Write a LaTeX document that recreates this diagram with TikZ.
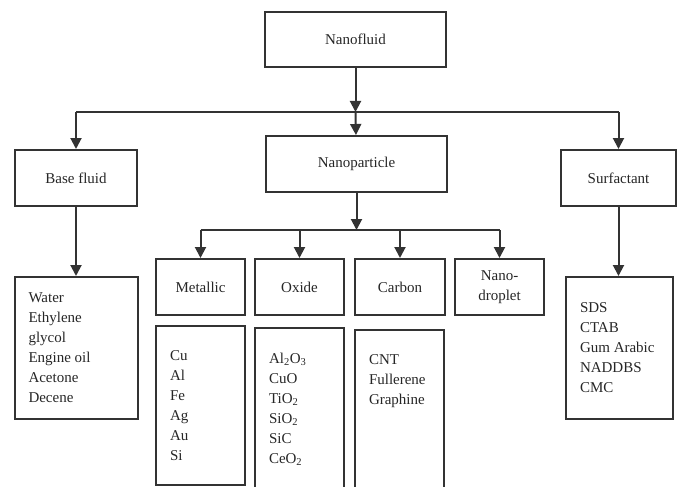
\documentclass[tikz,border=0pt]{standalone}
\usepackage{fontspec}
\setmainfont{Liberation Serif}
\usepackage{xcolor}
\usepackage{tikz}
\usetikzlibrary{arrows.meta}

\tikzset{
    box/.style={draw=black!80, line width=2pt, text=black!85, font=\fontsize{15}{20}\selectfont, inner sep=0pt},
    listbox/.style={box, align=flush left, inner xsep=14pt, inner ysep=0pt},
    link/.style={draw=black!80, line width=2pt},
    arrow/.style={link, -{Triangle[width=11pt,length=11pt]}},
}

\begin{document}
\begin{tikzpicture}[x=1pt,y=1pt,yscale=-1,xscale=1]
    \useasboundingbox (0,0) rectangle (678,487);
    \clip (0,0) rectangle (678,487);
    % top level
    \node[box, minimum width=181pt, minimum height=55pt] (nanofluid) at (355.5,39.5) {Nanofluid};
    \node[box, minimum width=122pt, minimum height=56pt] (basefluid) at (76,178) {Base fluid};
    \node[box, minimum width=181pt, minimum height=56pt] (nanoparticle) at (356.5,164) {Nanoparticle};
    \node[box, minimum width=115pt, minimum height=56pt] (surfactant) at (618.5,178) {Surfactant};
    % nanoparticle types
    \node[box, minimum width=89pt, minimum height=56pt] (metallic) at (200.5,287) {Metallic};
    \node[box, minimum width=89pt, minimum height=56pt] (oxide) at (299.5,287) {Oxide};
    \node[box, minimum width=90pt, minimum height=56pt] (carbon) at (400,287) {Carbon};
    \node[box, minimum width=89pt, minimum height=56pt, align=center] (droplet) at (499.5,287) {Nano-\\droplet};
    % lists
    \node[listbox, text width=95pt, minimum height=142pt] (baselist) at (76,348) {Water\\Ethylene\\glycol\\Engine oil\\Acetone\\Decene};
    \node[listbox, text width=79pt, minimum height=142pt] (surflist) at (619.5,348) {SDS\\CTAB\\Gum Arabic\\NADDBS\\CMC};
    \node[listbox, text width=61pt, minimum height=159pt] (metallist) at (200.5,405.5) {Cu\\Al\\Fe\\Ag\\Au\\Si};
    \node[listbox, text width=61pt, minimum height=162pt] (oxidelist) at (299.5,409) {Al\textsubscript{2}O\textsubscript{3}\\CuO\\TiO\textsubscript{2}\\SiO\textsubscript{2}\\SiC\\CeO\textsubscript{2}};
    \node[listbox, text width=61pt, minimum height=160pt] (carbonlist) at (399.5,410) {CNT\\Fullerene\\Graphine\\[40pt]~};
    % first bus
    \coordinate (busA) at (355.5,112);
    \coordinate (busL) at (76,112);
    \coordinate (busR) at (618.5,112);
    \draw[arrow] (nanofluid) -- (busA);
    \draw[link] (busL) -- (busR);
    \draw[arrow] (busL) -- (basefluid);
    \draw[arrow] (busA) -- (nanoparticle);
    \draw[arrow] (busR) -- (surfactant);
    % second bus
    \coordinate (busB) at (356.5,230);
    \draw[arrow] (nanoparticle) -- (busB);
    \draw[link] (metallic |- busB) -- (droplet |- busB);
    \foreach \kind in {metallic,oxide,carbon,droplet}
        \draw[arrow] (\kind |- busB) -- (\kind);
    % lists
    \draw[arrow] (basefluid.south) -- (basefluid.south |- baselist.north);
    \draw[arrow] (surfactant.south) -- (surfactant.south |- surflist.north);
\end{tikzpicture}
\end{document}
